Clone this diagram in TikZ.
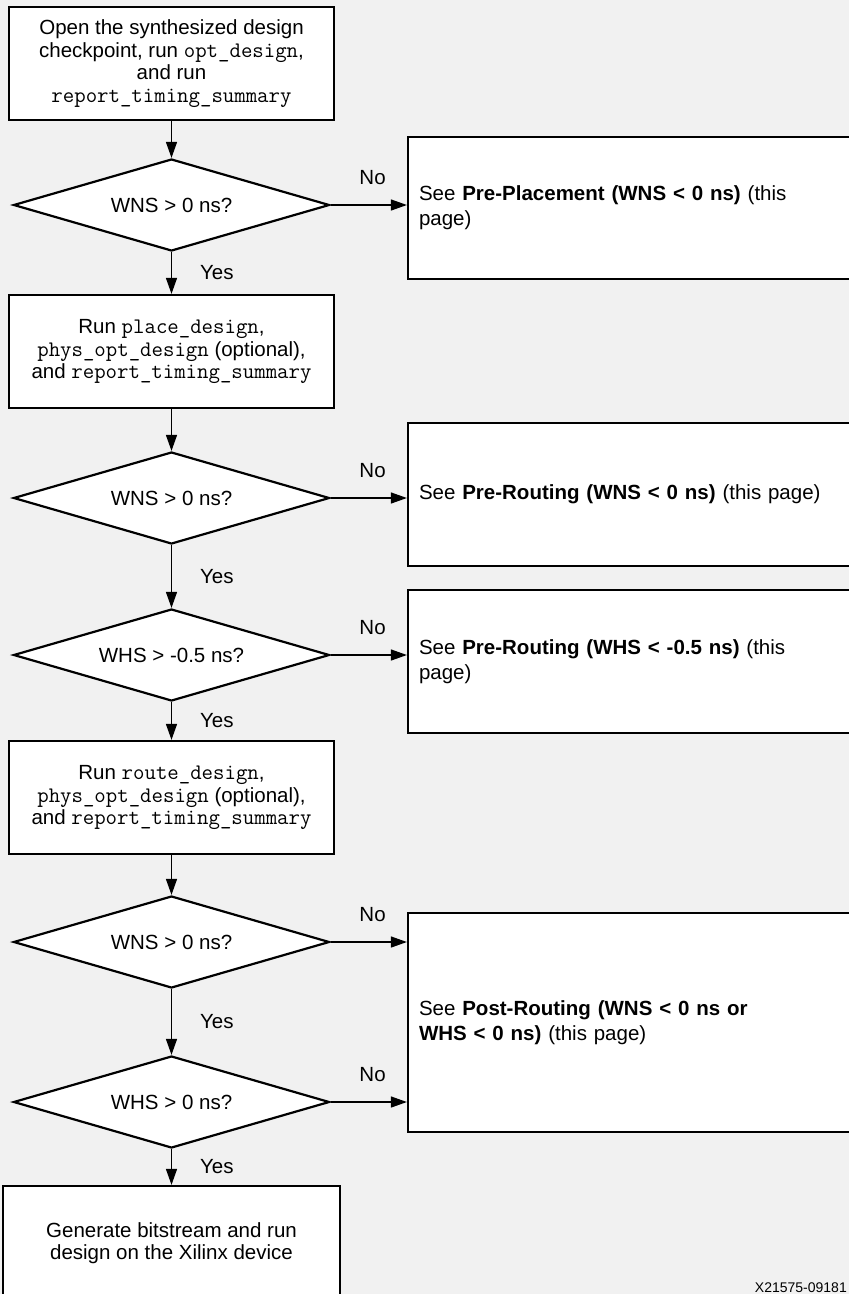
\documentclass[tikz,border=0pt]{standalone}
\usepackage{fontspec}
\setmainfont{Liberation Sans}
\usetikzlibrary{shapes.geometric,arrows.meta}
\definecolor{pagebg}{HTML}{F1F1F1}
% Tcl command names in a thin typewriter face
\newcommand{\tclcmd}[1]{{\fontsize{22.2}{22.5}\selectfont\ttfamily #1}}

\begin{document}
\begin{tikzpicture}[x=1pt,y=-1pt,
  every node/.style={font=\fontsize{20.5}{22.5}\selectfont},
  stepbox/.style={draw, fill=white, line width=2.2pt, rectangle, align=center,
    inner sep=0pt, minimum width=325pt, minimum height=113pt},
  seebox/.style={draw, fill=white, line width=2.2pt, rectangle, align=left,
    inner sep=11pt, text width=430pt, minimum width=452pt,
    font=\fontsize{20.5}{25}\selectfont},
  decision/.style={draw, fill=white, line width=2.2pt, diamond, aspect=3.4,
    minimum width=316pt, minimum height=92pt, inner sep=0pt},
  flow/.style={line width=1.3pt, -{Triangle[length=16pt,width=11pt]}},
  yes/.style={midway, anchor=west, xshift=28pt, inner sep=0pt},
  no/.style={pos=0.55, anchor=south, yshift=20pt, inner sep=0pt}
]
\useasboundingbox (0,0) rectangle (849,1294);
\clip (0,0) rectangle (849,1294);
\fill[pagebg] (0,0) rectangle (849,1294);

% main column
\node[stepbox] (open) at (171.5,63.5)
  {Open the synthesized design\\checkpoint, run \tclcmd{opt\_design},\\and run\\\tclcmd{report\_timing\_summary}};
\node[decision] (wns1) at (171.5,205) {WNS > 0 ns?};
\node[stepbox] (place) at (171.5,351.5)
  {Run \tclcmd{place\_design},\\\tclcmd{phys\_opt\_design} (optional),\\and \tclcmd{report\_timing\_summary}};
\node[decision] (wns2) at (171.5,498) {WNS > 0 ns?};
\node[decision] (whs1) at (171.5,655) {WHS > -0.5 ns?};
\node[stepbox] (route) at (171.5,797.5)
  {Run \tclcmd{route\_design},\\\tclcmd{phys\_opt\_design} (optional),\\and \tclcmd{report\_timing\_summary}};
\node[decision] (wns3) at (171.5,942) {WNS > 0 ns?};
\node[decision] (whs2) at (171.5,1102) {WHS > 0 ns?};
\node[stepbox, minimum width=337pt, minimum height=114pt] (bitstream) at (171.5,1243)
  {Generate bitstream and run\\design on the Xilinx device};

% failure branches
\node[seebox, minimum height=142pt] (prePlace) at (634,208)
  {See \textbf{Pre-Placement (WNS < 0 ns)} (this\\page)};
\node[seebox, minimum height=143pt] (preRouteWNS) at (634,494.5)
  {See \textbf{Pre-Routing (WNS < 0 ns)} (this page)};
\node[seebox, minimum height=143pt] (preRouteWHS) at (634,661.5)
  {See \textbf{Pre-Routing (WHS < -0.5 ns)} (this\\page)};
\node[seebox, minimum height=219pt] (postRoute) at (634,1022.5)
  {See \textbf{Post-Routing (WNS < 0 ns or}\\\textbf{WHS < 0 ns)} (this page)};

\node[anchor=base east, inner sep=0pt, font=\fontsize{14}{14}\selectfont] (figid) at (847,1292) {X21575-09181};

% connectors
\draw[flow] (open) -- (wns1);
\draw[flow] (wns1) -- node[yes] (yes1) {Yes} (place);
\draw[flow] (place) -- (wns2);
\draw[flow] (wns2) -- node[yes] (yes2) {Yes} (whs1);
\draw[flow] (whs1) -- node[yes] (yes3) {Yes} (route);
\draw[flow] (route) -- (wns3);
\draw[flow] (wns3) -- node[yes] (yes4) {Yes} (whs2);
\draw[flow] (whs2) -- node[yes] (yes5) {Yes} (bitstream);

\draw[flow] (wns1.east) -- node[no] (no1) {No} (wns1.east -| prePlace.west);
\draw[flow] (wns2.east) -- node[no] (no2) {No} (wns2.east -| preRouteWNS.west);
\draw[flow] (whs1.east) -- node[no] (no3) {No} (whs1.east -| preRouteWHS.west);
\draw[flow] (wns3.east) -- node[no] (no4) {No} (wns3.east -| postRoute.west);
\draw[flow] (whs2.east) -- node[no] (no5) {No} (whs2.east -| postRoute.west);
\end{tikzpicture}
\end{document}
